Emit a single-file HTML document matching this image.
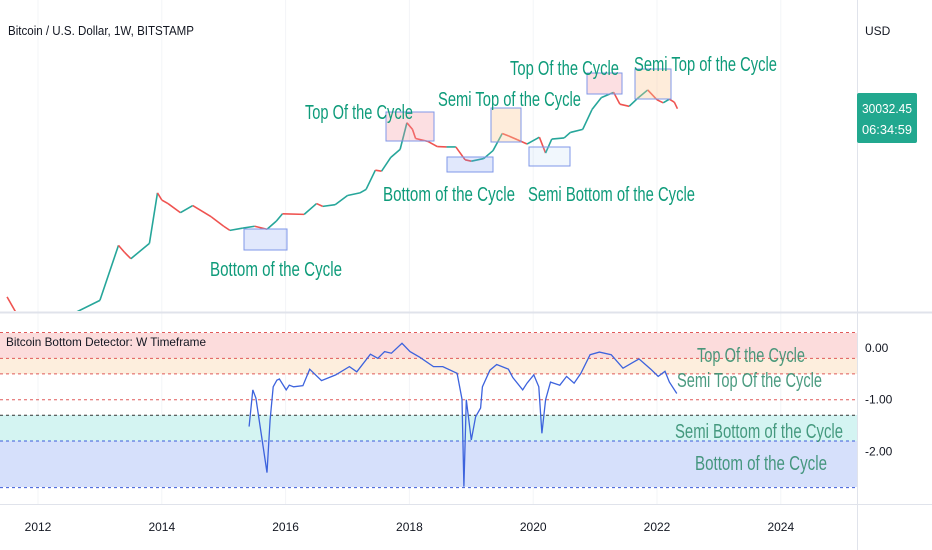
<!DOCTYPE html>
<html><head><meta charset="utf-8"><style>
body{margin:0;background:#fff;}
svg{display:block;font-family:"Liberation Sans",sans-serif;}
</style></head><body>
<svg id="c" width="932" height="550" viewBox="0 0 932 550">
<g id="grid"></g>
<rect x="0" y="333" width="857" height="25" fill="#fcdcdc"/>
<rect x="0" y="358" width="857" height="16" fill="#fdeedd"/>
<rect x="0" y="415" width="857" height="26" fill="#d4f4f2"/>
<rect x="0" y="441" width="857" height="46" fill="#d6e0fb"/>
<g id="lev"></g>
<g id="price"></g>
<g id="osc"></g>
<g stroke="#7f97e8" stroke-width="1">
<rect x="244" y="229" width="43" height="21" fill="rgba(120,150,240,0.22)"/>
<rect x="386" y="112" width="48" height="29" fill="rgba(245,150,160,0.3)"/>
<rect x="447" y="157" width="46" height="15" fill="rgba(120,150,240,0.22)"/>
<rect x="491" y="108" width="30" height="34" fill="rgba(252,200,150,0.35)"/>
<rect x="529" y="147" width="41" height="19" fill="rgba(160,200,240,0.15)"/>
<rect x="587" y="73" width="35" height="21" fill="rgba(245,150,160,0.3)"/>
<rect x="635" y="69" width="36" height="30" fill="rgba(252,200,150,0.35)"/>
</g>
<g fill="#0e9b7a" font-size="20">
<text x="210" y="276" textLength="132" lengthAdjust="spacingAndGlyphs">Bottom of the Cycle</text>
<text x="305" y="119" textLength="108" lengthAdjust="spacingAndGlyphs">Top Of the Cycle</text>
<text x="383" y="201" textLength="132" lengthAdjust="spacingAndGlyphs">Bottom of the Cycle</text>
<text x="438" y="106" textLength="143" lengthAdjust="spacingAndGlyphs">Semi Top of the Cycle</text>
<text x="528" y="201" textLength="167" lengthAdjust="spacingAndGlyphs">Semi Bottom of the Cycle</text>
<text x="510" y="75" textLength="109" lengthAdjust="spacingAndGlyphs">Top Of the Cycle</text>
<text x="634" y="71" textLength="143" lengthAdjust="spacingAndGlyphs">Semi Top of the Cycle</text>
</g>
<g fill="#2c8a6a" font-size="20" opacity="0.85">
<text x="697" y="362" textLength="108" lengthAdjust="spacingAndGlyphs">Top Of the Cycle</text>
<text x="677" y="387" textLength="145" lengthAdjust="spacingAndGlyphs">Semi Top Of the Cycle</text>
<text x="675" y="438" textLength="168" lengthAdjust="spacingAndGlyphs">Semi Bottom of the Cycle</text>
<text x="695" y="470" textLength="132" lengthAdjust="spacingAndGlyphs">Bottom of the Cycle</text>
</g>
<line x1="0" y1="312.5" x2="932" y2="312.5" stroke="#e0e3eb" stroke-width="2"/>
<line x1="0" y1="504.5" x2="932" y2="504.5" stroke="#e0e3eb"/>
<line x1="857.5" y1="0" x2="857.5" y2="550" stroke="#e0e3eb"/>
<text x="8" y="35" font-size="13" fill="#131722" textLength="186" lengthAdjust="spacingAndGlyphs">Bitcoin / U.S. Dollar, 1W, BITSTAMP</text>
<text x="865" y="35" font-size="12" fill="#131722">USD</text>
<rect x="857" y="93" width="60" height="50" rx="2" fill="#22a88f"/>
<text x="862" y="113" font-size="13" fill="#fff" textLength="50" lengthAdjust="spacingAndGlyphs">30032.45</text>
<text x="862" y="134" font-size="13" fill="#fff" textLength="50" lengthAdjust="spacingAndGlyphs">06:34:59</text>
<text x="6" y="346" font-size="12" fill="#131722" textLength="200" lengthAdjust="spacingAndGlyphs">Bitcoin Bottom Detector: W Timeframe</text>
<g id="yax" font-size="12" fill="#131722"></g>
<g id="xax" font-size="12" fill="#131722"></g>
</svg>
<script>
const years=[2012,2014,2016,2018,2020,2022,2024];
const oscTicks=[0,-1,-2];
const oscTickLabels=["0.00","-1.00","-2.00"];
const levels=[0.3,-0.2,-0.5,-1.0,-1.3,-1.8,-2.7];
const levelColors=["#e05a5a","#e05a5a","#e05a5a","#e05a5a","#333","#3b5bd9","#3b5bd9"];
const oscDates=[2015.41,2015.47,2015.52,2015.70,2015.75,2015.80,2015.86,2015.90,2016.01,2016.06,2016.13,2016.28,2016.39,2016.58,2016.81,2017.03,2017.15,2017.37,2017.49,2017.60,2017.71,2017.88,2018.01,2018.17,2018.39,2018.54,2018.77,2018.85,2018.88,2018.92,2019.00,2019.07,2019.15,2019.18,2019.30,2019.41,2019.60,2019.67,2019.83,2019.90,2020.01,2020.09,2020.14,2020.20,2020.28,2020.43,2020.54,2020.66,2020.77,2020.92,2021.07,2021.26,2021.45,2021.71,2021.90,2022.02,2022.13,2022.20,2022.32];
const oscValues=[-1.52,-0.81,-0.97,-2.41,-1.39,-0.75,-0.62,-0.6,-0.81,-0.72,-0.75,-0.73,-0.41,-0.63,-0.52,-0.36,-0.46,-0.12,-0.2,-0.07,-0.1,0.09,-0.07,-0.18,-0.36,-0.36,-0.49,-0.99,-2.68,-1.0,-1.78,-1.33,-1.16,-0.75,-0.43,-0.32,-0.41,-0.57,-0.81,-0.68,-0.52,-0.75,-1.65,-1.0,-0.66,-0.72,-0.55,-0.68,-0.49,-0.13,-0.08,-0.13,-0.39,-0.21,-0.41,-0.55,-0.45,-0.66,-0.88];
const priceDates=[2011.5,2011.8,2012.0,2012.5,2013.0,2013.3,2013.4,2013.5,2013.8,2013.93,2014.0,2014.1,2014.3,2014.5,2014.8,2015.0,2015.1,2015.3,2015.5,2015.7,2015.85,2015.95,2016.3,2016.5,2016.6,2016.8,2017.0,2017.2,2017.3,2017.45,2017.55,2017.7,2017.85,2017.96,2018.05,2018.1,2018.3,2018.45,2018.6,2018.75,2018.9,2019.0,2019.2,2019.35,2019.5,2019.6,2019.75,2019.9,2020.1,2020.2,2020.3,2020.5,2020.6,2020.8,2020.95,2021.1,2021.3,2021.4,2021.55,2021.7,2021.85,2022.0,2022.1,2022.2,2022.28,2022.33];
const priceValues=[15,4,5,7,13,120,90,70,130,1000,750,650,450,600,380,260,220,240,260,230,320,430,420,650,580,620,900,1000,1150,2500,2400,4200,5800,17000,13000,9000,8000,6500,6400,6400,3800,3600,4000,5500,11000,10000,8500,7200,9500,5000,8800,9200,11500,13000,29000,47000,58000,36000,33000,47000,64000,43000,38000,44000,39000,30000];
const NS="http://www.w3.org/2000/svg";
function xOf(t){return 38+(t-2012)*61.9;}
function yOsc(v){return 348-v*51.7;}
function yPrice(p){return 120+57*(Math.log10(19000)-Math.log10(p));}
function mk(tag,parent,attrs){const e=document.createElementNS(NS,tag);for(const k in attrs)e.setAttribute(k,attrs[k]);parent.appendChild(e);return e;}
const grid=document.getElementById('grid');
years.forEach(function(y){
  const l=mk('line',grid,{x1:xOf(y),x2:xOf(y),y1:0,y2:504,stroke:'#f3f4f7'});
  
  
  const t=mk('text',document.getElementById('xax'),{x:xOf(y),y:531,'text-anchor':'middle'});
  t.textContent=y;
  
  
});
const lev=document.getElementById('lev');
levels.forEach(function(v,i){
  const l=mk('line',lev,{x1:0,x2:857,y1:yOsc(v),y2:yOsc(v),stroke:levelColors[i],'stroke-width':1,'stroke-dasharray':'3,3'});
  
  
});
oscTicks.forEach(function(v,i){
  const t=mk('text',document.getElementById('yax'),{x:865,y:yOsc(v)+4});
  t.textContent=oscTickLabels[i];
  
  
});
const op=oscDates.map(function(d,i){return xOf(d).toFixed(1)+','+yOsc(oscValues[i]).toFixed(1);}).join(' ');
const ol=mk('polyline',document.getElementById('osc'),{points:op,fill:'none',stroke:'#3d63dd','stroke-width':1.3});


const pg=document.getElementById('price');
mk('clipPath',document.getElementById('c'),{id:'cp'}).appendChild(document.createElementNS(NS,'rect')).setAttribute('height','311');
document.querySelector('#cp rect').setAttribute('width','857');
pg.setAttribute('clip-path','url(#cp)');
for(let i=1;i<priceDates.length;i++){
  const up=priceValues[i]>=priceValues[i-1];
  const s=mk('line',pg,{x1:xOf(priceDates[i-1]),y1:yPrice(priceValues[i-1]),x2:xOf(priceDates[i]),y2:yPrice(priceValues[i]),stroke:up?'#26a69a':'#ef5350','stroke-width':1.6});
  
  
}
</script>
</body></html>
